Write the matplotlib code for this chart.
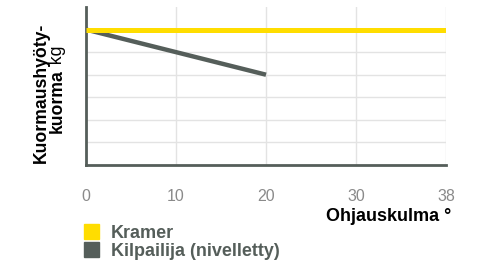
import matplotlib
matplotlib.use("Agg")
import matplotlib.pyplot as plt
from matplotlib.patches import Rectangle
import numpy as np

# Data
angle_labels = ["0", "10", "20", "30", "38"]
kramer = [6, 6, 6, 6, 6]
kilpailija = [6, 5, 4]
series_names = ["Kramer", "Kilpailija (nivelletty)"]
y_label_line1 = "Kuormaushyöty-"
y_label_line2a = "kuorma"
y_label_line2b = " kg"
x_label = "Ohjauskulma °"

YELLOW = "#FFDD00"
DARK = "#555E5A"
GRID = "#E3E3E3"
TICK = "#8A8A8A"

plt.rcParams['font.family'] = ['Liberation Sans', 'DejaVu Sans']

W, H = 478, 266
fig = plt.figure(figsize=(W / 100, H / 100), dpi=100)
ax = fig.add_axes([86 / W, (H - 165) / H, 360 / W, (165 - 7) / H])

pos = np.arange(len(angle_labels))
ax.plot(pos[:len(kilpailija)], kilpailija, color=DARK, lw=3.2, solid_capstyle='butt', zorder=3)
ax.plot(pos, kramer, color=YELLOW, lw=3.6, solid_capstyle='butt', zorder=4)

ax.set_xlim(0, len(angle_labels) - 1)
ax.set_ylim(0, 7)
ax.set_xticks(pos)
ax.set_xticklabels(angle_labels)
ax.set_yticks(np.arange(1, 7))
ax.set_yticklabels([])
ax.tick_params(axis='both', length=0)
ax.tick_params(axis='x', colors=TICK, labelsize=11.5, pad=17)
ax.grid(True, color=GRID, lw=1)
ax.set_axisbelow(True)
for s in ['top', 'right']:
    ax.spines[s].set_visible(False)
for s in ['left', 'bottom']:
    ax.spines[s].set_color(DARK)
    ax.spines[s].set_linewidth(2)

# y label (two lines), anchored on baseline
YFS = 12.7
fig.text(46 / W, 1 - 163 / H, y_label_line1, rotation=90, rotation_mode='anchor',
         ha='left', va='baseline', fontsize=YFS, fontweight='bold', color='black')
t1 = fig.text(62 / W, 1 - 133 / H, y_label_line2a, rotation=90, rotation_mode='anchor',
              ha='left', va='baseline', fontsize=YFS, fontweight='bold', color='black')
fig.canvas.draw()
bb = t1.get_window_extent()
fig.text(62 / W, bb.y1 / H, y_label_line2b, rotation=90, rotation_mode='anchor',
         ha='left', va='baseline', fontsize=YFS, color='black')

# x label
fig.text(451 / W, 1 - 221 / H, x_label, ha='right', va='baseline', fontsize=13,
         fontweight='bold', color='black')

# legend
colors = [YELLOW, DARK]
baselines = [238, 256]
for name, c, y in zip(series_names, colors, baselines):
    fig.patches.append(Rectangle((84 / W, 1 - (y + 1) / H), 15 / W, 15 / H,
                                 transform=fig.transFigure, color=c, figure=fig))
    fig.text(111 / W, 1 - y / H, name, ha='left', va='baseline', fontsize=13,
             fontweight='bold', color=DARK)

fig.savefig("out.png", dpi=100)
